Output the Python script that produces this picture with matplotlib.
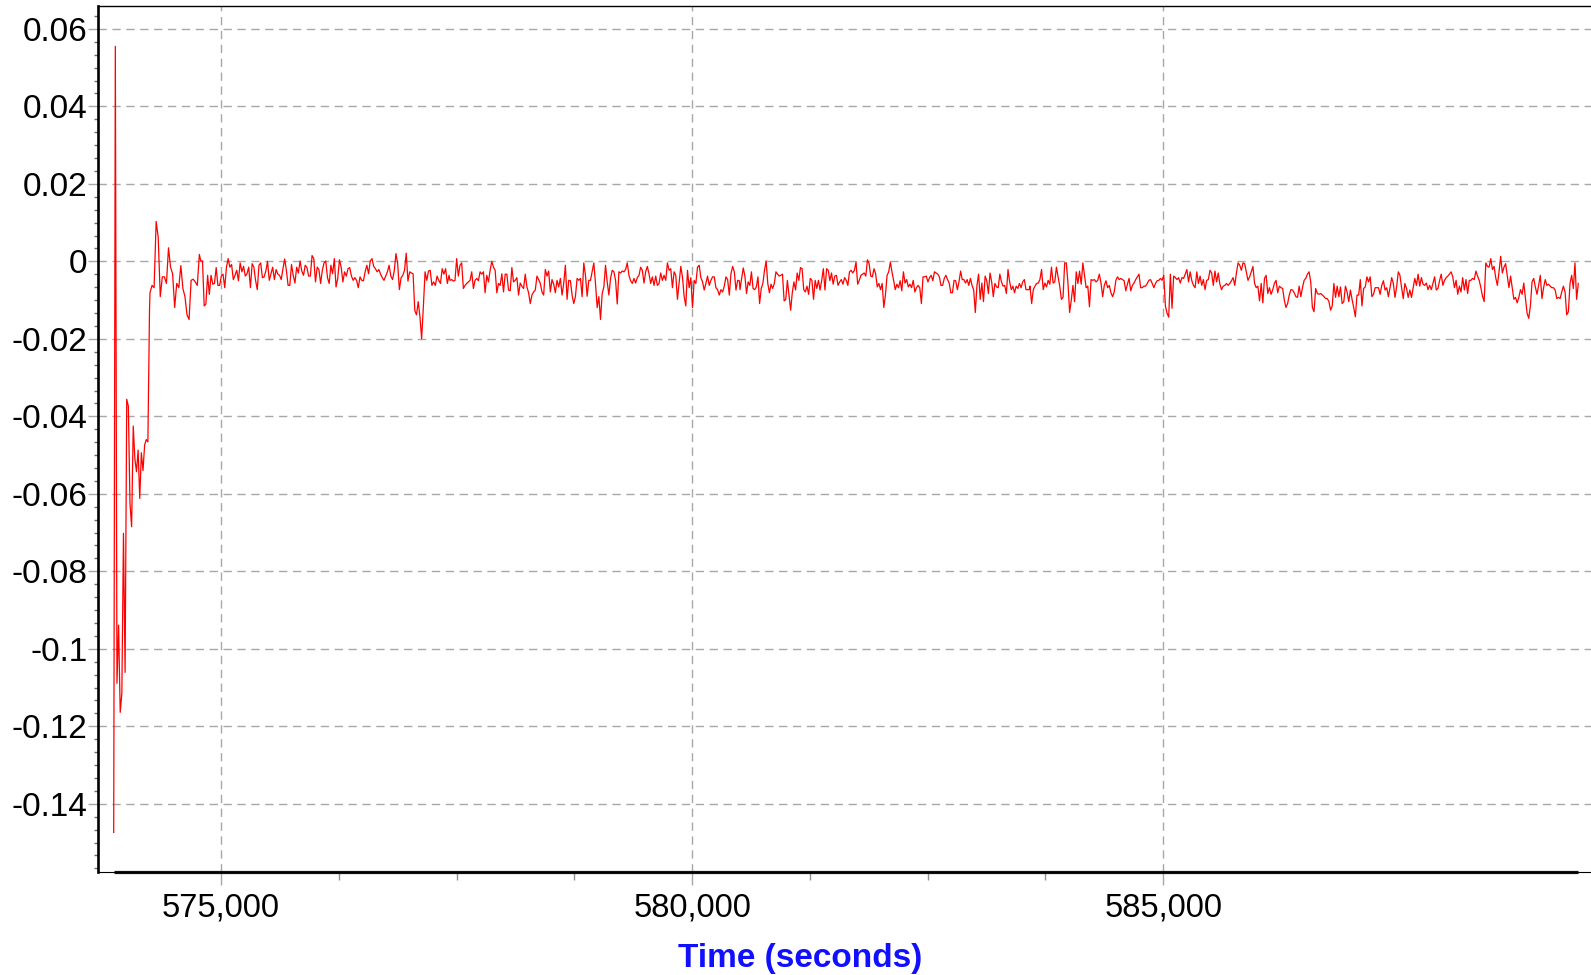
import numpy as np
import matplotlib
matplotlib.use("Agg")
import matplotlib.pyplot as plt
from matplotlib.ticker import MultipleLocator, AutoMinorLocator, FixedLocator, FuncFormatter

plt.rcParams['font.family'] = ['Liberation Sans', 'DejaVu Sans']

# signal, in units of 1e-3, split into stretches with their start/end times (s)
seg_times = [
    (573861, 574241),
    (574246, 574770),
    (574785, 577420),
    (577430, 580501),
    (580508, 583578),
    (583586, 586653),
    (586671, 589405),
]

seg1 = [-147.4, 55.5, -108.9, -93.9, -116.4, -111.5, -70.2, -106.1, -35.6, -37.4, -62.5, -68.5,
        -42.5, -50.9, -54.3, -48.7, -61.2, -49.4, -54.0, -47.4, -46.0, -46.6, -12.6]

seg2 = [-8.1, -6.2, -6.8, 10.3, 6.2, -9.1, -4.0, -4.0, -5.7, 3.5, -1.5, -3.2, -11.9, -5.7, -6.8,
        -1.1, -7.0, -9.1, -13.8, -15.0, -4.9, -4.6, -5.3, -6.2, 1.8]

seg3 = [0.1, 0.1, -11.5, -11.0, -3.6, -8.5, -3.6, -5.9, -5.7, -1.6, -6.2, -6.2, -3.8, -3.3, -6.8,
        -1.5, 0.7, -1.5, -0.8, -4.7, -3.6, -2.3, -5.0, -0.4, -2.7, -1.3, -3.8, -3.2, -1.5, -6.8,
        -0.6, -1.5, -4.9, -7.3, -1.0, -0.4, -4.2, -4.0, -2.5, 0.0, -4.9, -3.2, -1.5, -4.7, -2.1,
        -3.3, -3.6, -4.7, -1.9, 0.6, -2.3, -6.2, -6.2, -0.8, -3.6, -5.6, -1.5, -3.0, 0.1, -2.5,
        -3.6, -1.0, -1.6, -3.8, -3.8, 1.5, 0.7, -5.3, -1.5, -2.1, -5.7, -2.3, -0.4, 0.1, -4.2,
        -5.7, -1.0, -3.2, 0.7, -6.6, -4.4, 0.4, -1.5, -5.3, -2.7, -3.8, -1.9, -1.6, -3.8, -4.9,
        -4.2, -4.9, -6.8, -4.0, -4.9, -5.0, -2.7, -1.0, -3.2, 0.1, 0.7, -1.3, -1.9, -2.7, -2.1,
        -3.3, -4.2, -4.9, -3.8, -2.7, -1.0, -3.8, -4.7, -2.5, 2.0, -0.6, -7.3, -4.2, -3.6, -2.3,
        2.1, -5.1, -2.7, -3.0, -3.2, -12.7, -13.8, -10.4, -14.3, -20.0, -11.7, -2.7, -4.9, -2.5,
        -2.3, -6.2, -5.3, -6.2, -3.8, -4.9, -5.7, -1.9, -3.3, -1.9, -5.7, -3.6]

seg4 = [-4.9, -4.7, -5.1, -4.9, 0.7, -3.8, -1.0, -0.4, -7.0, -6.2, -5.7, -5.3, -4.9, -2.7, -7.0,
        -4.9, -4.4, -5.0, -2.7, -3.3, -2.7, -8.1, -3.6, -5.3, -2.3, 0.0, -1.5, -2.3, -8.1, -5.7,
        -6.2, -3.2, -7.9, -3.3, -3.3, -7.4, -7.6, -1.6, -5.3, -4.9, -4.2, -8.7, -5.6, -6.4, -7.0,
        -3.3, -6.6, -8.1, -10.9, -8.7, -7.9, -7.4, -3.8, -4.7, -5.7, -7.9, -8.7, -2.1, -3.8, -2.5,
        -7.9, -4.7, -5.9, -8.1, -4.9, -6.6, -4.4, -8.7, -5.7, -1.0, -9.8, -4.9, -5.0, -8.7, -10.9,
        -9.1, -4.4, -4.9, -4.4, -9.1, -0.4, -3.6, -9.0, -4.9, -4.9, -2.7, -0.4, -5.7, -11.9, -9.1,
        -15.0, -8.3, -6.6, -1.0, -5.3, -8.7, -4.4, -2.3, -2.7, -4.9, -11.0, -2.7, -3.0, -2.5, -2.7,
        -2.1, -0.4, -3.6, -5.0, -5.7, -4.4, -5.6, -4.2, -3.6, -1.5, -2.3, -5.6, -2.7, -1.3, -3.2,
        -5.7, -4.0, -6.2, -3.8, -6.2, -5.7, -3.0, -4.9, -3.6, -4.9, -0.4, -2.3, -1.9, -6.8, -2.7,
        -3.6, -9.8, -5.6, -1.3, -4.0, -9.1, -11.5, -2.3, -6.8, -4.2, -11.9, -4.9, -5.7, -1.5, -1.0,
        -4.2, -5.3, -7.4, -5.7, -3.8, -6.2, -4.9, -4.0, -4.0, -6.8, -7.3, -8.7, -7.3, -7.9, -6.4,
        -4.0, -4.7, -8.7, -3.2, -1.3, -2.7, -7.4, -4.9, -5.0]

seg5 = [-7.3, -4.4, -1.7, -3.8, -8.3, -5.3, -6.2, -2.7, -7.0, -7.3, -6.6, -4.0, -10.9, -7.0, -5.7,
        -2.3, 0.1, -5.7, -8.1, -5.9, -7.0, -5.7, -2.7, -3.3, -3.8, -3.6, -3.3, -10.2, -9.8, -4.9,
        -8.7, -12.6, -8.1, -5.3, -7.4, -3.0, -4.9, -1.6, -1.9, -7.3, -7.9, -6.4, -8.5, -4.4, -4.9,
        -9.8, -4.9, -7.0, -4.9, -7.4, -4.9, -1.9, -7.4, -1.9, -2.3, -5.0, -3.0, -5.9, -3.8, -3.6,
        -6.2, -5.3, -4.7, -5.9, -4.2, -4.9, -6.2, -2.7, -2.3, -3.0, -2.3, -0.2, -5.9, -4.9, -3.6,
        -3.3, -3.0, -3.8, 0.4, -0.6, -3.8, -4.0, -1.9, -3.2, -6.6, -5.7, -7.3, -5.7, -11.9, -8.7,
        -3.6, -2.7, -0.2, -2.7, -4.9, -7.3, -5.9, -6.8, -5.0, -7.6, -2.7, -5.6, -4.7, -6.6, -5.9,
        -6.8, -4.9, -7.9, -6.8, -6.2, -6.8, -10.9, -4.0, -4.0, -3.8, -5.3, -4.2, -3.6, -5.0, -2.7,
        -3.0, -3.3, -4.0, -6.2, -6.2, -4.4, -3.6, -4.7, -5.6, -8.1, -8.1, -4.9, -5.0, -7.3, -5.3,
        -2.5, -4.7, -4.7, -5.6, -4.7, -6.2, -4.4, -6.2, -7.4, -13.2, -6.2, -3.3, -9.8, -5.6, -10.4,
        -3.8, -5.0, -8.3, -3.0, -5.3, -9.1, -5.7, -6.6, -6.8, -3.3, -5.3, -6.4, -6.2, -8.3, -2.1,
        -5.3, -7.3, -6.4, -8.1, -6.4, -7.0, -5.7, -6.8, -5.3, -4.7, -7.3, -7.3, -7.3]

seg6 = [-6.4, -10.9, -7.3, -6.4, -5.7, -5.6, -4.7, -2.1, -7.3, -5.6, -6.6, -4.9, -5.9, -1.5, -5.6,
        -5.3, -1.5, -4.0, -6.4, -9.8, -9.3, -0.4, -0.4, -5.7, -13.2, -10.0, -6.2, -10.4, -2.7, -5.7,
        -2.5, -5.9, -0.4, -3.6, -6.8, -6.4, -11.7, -4.7, -4.9, -4.7, -5.3, -4.9, -3.3, -5.6, -9.1,
        -6.2, -5.0, -6.8, -6.2, -8.1, -9.1, -7.9, -4.9, -4.0, -4.7, -4.4, -4.7, -5.0, -7.6, -5.9,
        -4.4, -7.6, -6.2, -5.6, -4.7, -4.0, -3.3, -6.8, -6.8, -6.4, -6.4, -5.7, -4.9, -4.7, -5.7,
        -6.8, -5.7, -5.0, -4.9, -4.4, -4.9, -3.6, -11.5, -13.4, -14.4, -3.3, -12.1, -3.8, -4.2, -4.7,
        -4.2, -5.6, -4.2, -4.4, -3.3, -2.1, -5.3, -2.7, -5.0, -6.2, -6.8, -2.7, -5.7, -3.8, -6.2,
        -4.7, -7.3, -4.9, -4.7, -2.3, -3.0, -6.2, -2.5, -5.3, -3.0, -5.9, -7.3, -6.4, -6.2, -5.7,
        -6.2, -5.7, -5.0, -4.2, -6.2, -3.0, -0.4, -1.0, -2.3, -0.4, -0.6, -2.7, -4.9, -4.0, -2.7,
        -1.3, -5.7, -6.8, -6.4, -10.2, -5.7, -10.7, -4.4, -3.6, -8.3, -6.8, -8.5, -7.3, -5.7, -4.9,
        -8.1, -6.4, -6.8, -7.0, -10.0, -11.9, -10.9, -8.7, -7.3, -7.4, -8.1, -9.1, -9.3, -6.4, -9.1,
        -6.8, -4.9, -4.4, -3.3, -2.7, -5.3, -11.9, -13.0, -7.0, -8.3, -8.5]

seg7 = [-8.3, -8.7, -9.1, -9.6, -9.6, -10.4, -12.6, -11.5, -5.7, -9.3, -6.4, -9.1, -6.6, -10.9,
        -10.4, -6.4, -7.9, -10.4, -7.4, -9.8, -11.9, -14.3, -8.7, -8.7, -4.7, -11.5, -7.0, -6.6,
        -4.0, -5.3, -4.0, -9.1, -8.5, -6.8, -6.8, -6.8, -8.5, -6.2, -5.0, -7.4, -6.8, -9.1, -6.8,
        -4.2, -5.7, -9.3, -6.6, -2.7, -3.6, -6.8, -9.6, -5.7, -7.0, -9.3, -7.4, -9.3, -6.8, -4.4,
        -6.2, -3.3, -6.4, -4.2, -5.9, -6.2, -5.6, -7.3, -6.2, -7.3, -5.6, -4.0, -7.4, -7.0, -5.0,
        -3.3, -6.2, -4.9, -4.2, -3.8, -3.3, -2.7, -4.0, -6.8, -4.9, -8.5, -6.4, -7.9, -4.2, -7.4,
        -4.7, -8.3, -4.9, -4.9, -4.4, -4.7, -2.5, -3.8, -4.9, -6.8, -9.0, -10.4, -0.4, -1.3, -1.5,
        0.7, -2.1, -1.3, -4.2, -6.2, -2.7, 1.3, -3.0, -1.5, -0.6, -3.8, -6.8, -3.8, -6.8, -9.8,
        -9.3, -10.7, -9.3, -7.3, -8.5, -5.6, -9.6, -13.4, -14.7, -11.5, -5.3, -4.4, -6.6, -8.5,
        -6.2, -3.6, -9.6, -6.8, -4.7, -6.2, -5.9, -6.4, -6.8, -6.8, -7.4, -9.6, -9.3, -9.6, -7.9,
        -6.4, -7.9, -13.8, -13.0, -5.7, -3.6, -7.0, -0.4, -9.8, -5.7]

segments = [seg1, seg2, seg3, seg4, seg5, seg6, seg7]

time = np.concatenate([np.linspace(t0, t1, len(s)) for (t0, t1), s in zip(seg_times, segments)])
value = np.concatenate([np.array(s) for s in segments]) / 1000.0

x_limits = (573691, 589535)
y_limits = (-0.1577, 0.0659)
x_major = [575000, 580000, 585000]

fig = plt.figure(figsize=(15.91, 9.75), dpi=100)
ax = fig.add_axes([0.0614, 0.1053, 0.9383, 0.8885])

ax.plot(time, value, color='#ff0000', lw=0.9)

ax.set_xlim(*x_limits)
ax.set_ylim(*y_limits)

# minor ticks on x only between the first and last labelled tick
x_minor = [m for m in np.arange(x_major[0], x_major[-1] + 1, 1250) if m not in x_major]
ax.xaxis.set_major_locator(FixedLocator(x_major))
ax.xaxis.set_minor_locator(FixedLocator(x_minor))
ax.yaxis.set_major_locator(MultipleLocator(0.02))
ax.yaxis.set_minor_locator(AutoMinorLocator(6))
ax.xaxis.set_major_formatter(FuncFormatter(lambda v, p: f"{int(round(v)):,}"))
ax.yaxis.set_major_formatter(FuncFormatter(lambda v, p: f"{round(v, 4):g}"))

ax.grid(True, which='major', color='#a8a8a8', lw=1.0, linestyle=(0, (6, 4)))

ax.tick_params(axis='x', which='major', length=9.5, width=1.0, color='#a8a8a8',
               labelsize=23.5, pad=5)
ax.tick_params(axis='x', which='minor', length=6, width=1.0, color='#909090')
ax.tick_params(axis='y', which='major', length=7, width=1.0, color='#a8a8a8',
               labelsize=24, pad=0.5)
ax.tick_params(axis='y', which='minor', length=3, width=1.0, color='#707070')

ax.spines['right'].set_visible(False)
ax.spines['left'].set_linewidth(1.9)
ax.spines['top'].set_linewidth(1.0)
ax.spines['bottom'].set_linewidth(0.8)

# heavy baseline across the span of the data
ax.plot([time.min(), time.max()], [0, 0], color='#111111', lw=2.3,
        transform=ax.get_xaxis_transform(), clip_on=False, solid_capstyle='butt')

fig.text(0.5028, 0.0165, 'Time (seconds)', color='#1010ff', fontsize=24,
         fontweight='bold', ha='center', va='center')

fig.savefig('out.png', dpi=100)
